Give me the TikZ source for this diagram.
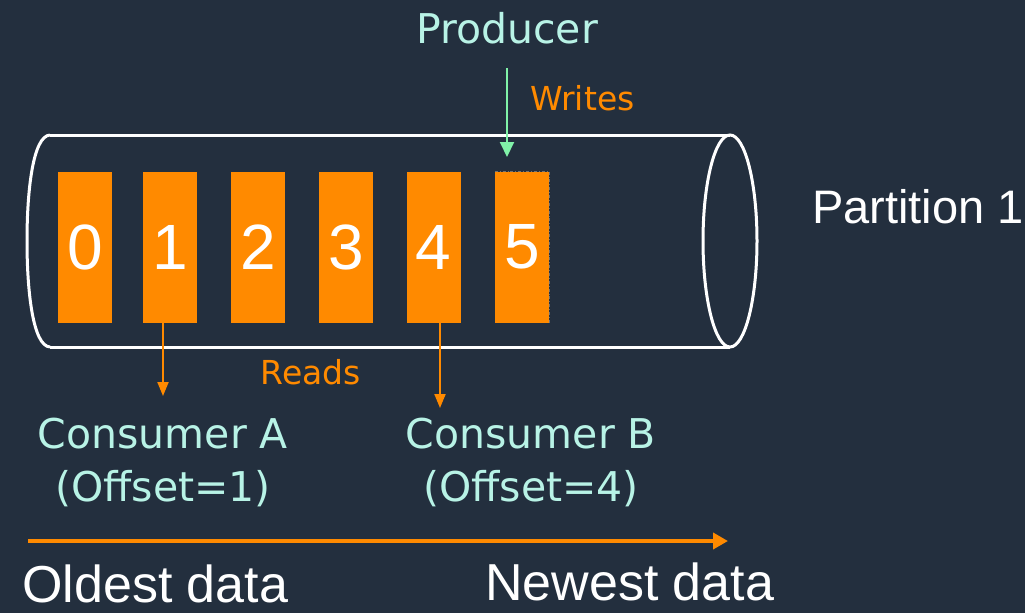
\documentclass[tikz,border=0pt]{standalone}
\usepackage{fontspec}
\setmainfont{Liberation Sans}
\newfontfamily\rolefont{DejaVu Sans}
\usetikzlibrary{arrows.meta}
\usetikzlibrary{positioning}
\definecolor{squidink}{HTML}{232F3E}
\definecolor{logorange}{HTML}{FF8A00}
\definecolor{rolemint}{HTML}{B8F3E6}
\definecolor{writegreen}{HTML}{80F2A8}

\tikzset{
  slot/.style={fill=logorange, text=white, inner sep=0pt,
    minimum width=54pt, minimum height=151pt,
    font=\fontsize{64}{64}\selectfont},
  role/.style={text=rolemint, align=center, inner sep=0pt,
    font=\rolefont\fontsize{41}{53}\selectfont},
  verb/.style={text=logorange, inner sep=0pt,
    font=\rolefont\fontsize{33}{33}\selectfont},
  tube/.style={white, line width=3pt},
  readarrow/.style={logorange, line width=2pt,
    -{Triangle[length=14pt,width=11pt]}},
  writearrow/.style={writegreen, line width=2pt,
    -{Triangle[length=15pt,width=14pt]}},
  timearrow/.style={logorange, line width=4pt,
    -{Triangle[length=15pt,width=16pt]}},
  edge/.style={white, font=\fontsize{52}{52}\selectfont, inner sep=0pt}
}

\begin{document}
\begin{tikzpicture}[x=1pt, y=-1pt]
  \fill[squidink] (0,0) rectangle (1025,613);
  \useasboundingbox (0,0) rectangle (1025,613);

  % the partition
  \draw[tube] (50,135) .. controls (33,136) and (27,190) .. (27,241)
    .. controls (27,292) and (33,346) .. (50,347);
  \draw[tube] (50,135) -- (730,135);
  \draw[tube] (50,347) -- (730,347);
  \draw[tube] (730,241) ellipse [x radius=27, y radius=106];

  \node[slot] (s0) at (85,247) {0};
  \node[slot, right=31pt of s0] (s1) {1};
  \node[slot, right=33pt of s1] (s2) {2};
  \node[slot, right=34pt of s2] (s3) {3};
  \node[slot, right=33pt of s3] (s4) {4};
  \node[slot, right=34pt of s4] (s5) {5};
  \draw[black!55, line width=0.8pt, dash dot]
    (s5.north west) -- (s5.north east) -- (s5.south east);

  \node[white, anchor=west, inner sep=0pt,
    font=\fontsize{47}{47}\selectfont] (part) at (812,207) {Partition 1};

  % producer
  \node[text=rolemint, font=\rolefont\fontsize{41}{41}\selectfont] (prod)
    at (507,28) {Producer};
  \coordinate (wtip) at (507,157);
  \draw[writearrow] (prod.south |- 0,68) -- (wtip);
  \node[verb, anchor=west] (writes) at (530,98) {Writes};

  % consumers
  \node[role] (consA) at (163,462) {Consumer A\\(Offset=1)};
  \node[role] (consB) at (531,462) {Consumer B\\(Offset=4)};
  \coordinate (rtipA) at (163,396);
  \coordinate (rtipB) at (440,408);
  \draw[readarrow] (s1.south -| rtipA) -- (rtipA);
  \draw[readarrow] (s4.south -| rtipB) -- (rtipB);
  \node[verb] (reads) at (311,372) {Reads};

  % time axis
  \coordinate (tstart) at (28,541);
  \coordinate (tend) at (728,541);
  \draw[timearrow] (tstart) -- (tend);
  \node[edge, anchor=west] (oldest) at (22,584) {Oldest data};
  \node[edge, anchor=west] (newest) at (485,582) {Newest data};
\end{tikzpicture}
\end{document}
